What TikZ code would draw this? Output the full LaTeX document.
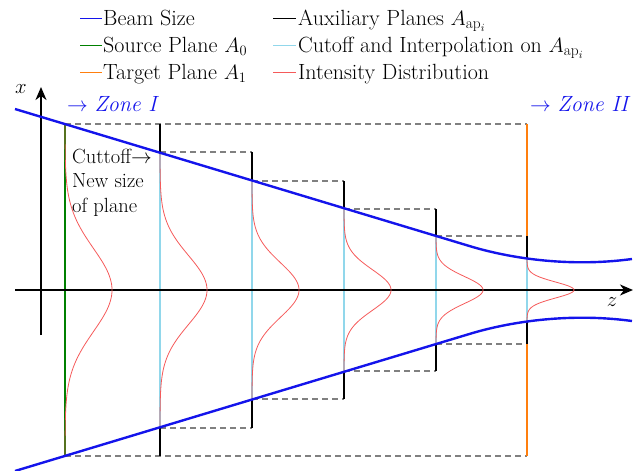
\documentclass[tikz,border=0pt]{standalone}
\usepackage{fontspec}
\usetikzlibrary{arrows.meta}
\definecolor{beamblue}{RGB}{20,20,235}
\definecolor{srcgreen}{RGB}{0,128,0}
\definecolor{tgtorange}{RGB}{255,127,14}
\definecolor{cutcyan}{RGB}{145,215,235}
\definecolor{intred}{RGB}{245,90,90}
\begin{document}
\begin{tikzpicture}[x=1pt,y=-1pt,
  every node/.style={font=\fontsize{22}{26}\selectfont, inner sep=0pt},
  beam/.style={beamblue, line width=2.4pt},
  srcplane/.style={srcgreen, line width=1.6pt},
  tgtplane/.style={tgtorange, line width=1.8pt},
  auxplane/.style={black, line width=1.8pt},
  cutplane/.style={cutcyan, line width=1.8pt},
  guide/.style={gray, line width=1.1pt, dash pattern=on 6pt off 4pt},
  intens/.style={intred, line width=0.8pt},
  axis/.style={black, line width=1.5pt, -{Stealth[length=13pt,width=11pt,inset=4pt]}},
  legline/.style={line width=1.6pt},
  legtext/.style={anchor=base west},
  cuttext/.style={anchor=base west, font=\fontsize{20.5}{24}\selectfont}
]
\useasboundingbox (0,0) rectangle (643,471);

% ---- coordinates: beam edges on each plane
\coordinate (t0) at (65,124);  \coordinate (b0) at (65,456);
\coordinate (t1) at (160,152); \coordinate (b1) at (160,428);
\coordinate (t2) at (252,181); \coordinate (b2) at (252,399);
\coordinate (t3) at (344,209); \coordinate (b3) at (344,371);
\coordinate (t4) at (436,236); \coordinate (b4) at (436,344);
\coordinate (t5) at (527,258); \coordinate (b5) at (527,322);
% auxiliary plane extents
\coordinate (a1t) at (160,124); \coordinate (a1b) at (160,456);
\coordinate (a2t) at (252,152); \coordinate (a2b) at (252,428);
\coordinate (a3t) at (344,181); \coordinate (a3b) at (344,399);
\coordinate (a4t) at (436,209); \coordinate (a4b) at (436,371);
\coordinate (a5t) at (527,236); \coordinate (a5b) at (527,344);
\coordinate (tgtT) at (527,124); \coordinate (tgtB) at (527,456);

% ---- dashed guides
\draw[guide] (t0) -- (tgtT);
\draw[guide] (b0) -- (tgtB);
\draw[guide] (t1) -- (a2t);
\draw[guide] (b1) -- (a2b);
\draw[guide] (t2) -- (a3t);
\draw[guide] (b2) -- (a3b);
\draw[guide] (t3) -- (a4t);
\draw[guide] (b3) -- (a4b);
\draw[guide] (t4) -- (a5t);
\draw[guide] (b4) -- (a5b);

% ---- planes
\draw[tgtplane] (tgtT) -- (tgtB);
\draw[srcplane] (t0) -- (b0);
\draw[auxplane] (a1t) -- (a1b);
\draw[auxplane] (a2t) -- (a2b);
\draw[auxplane] (a3t) -- (a3b);
\draw[auxplane] (a4t) -- (a4b);
\draw[auxplane] (a5t) -- (a5b);
\draw[cutplane] (t1) -- (b1);
\draw[cutplane] (t2) -- (b2);
\draw[cutplane] (t3) -- (b3);
\draw[cutplane] (t4) -- (b4);
\draw[cutplane] (t5) -- (b5);

% ---- axes
\coordinate (zs) at (15,290); \coordinate (ze) at (633,290);
\coordinate (xs) at (41,335); \coordinate (xe) at (41,87);
\draw[axis] (zs) -- (ze);
\draw[axis] (xs) -- (xe);
\node (xlab) at (21,89) {$x$};
\node (zlab) at (612,302) {$z$};

% ---- intensity distributions
\foreach \p/\h in {65/166,160/138,252/109,344/81,436/54,527/32}{
  \draw[intens] plot[domain=-1:1, samples=121, smooth]
    ({\p+47*exp(-8*\x*\x)}, {290+\h*\x});
}

% ---- beam
\draw[beam] (15,109) -- (470,246.2) .. controls (505,256.8) and (565,268) .. (632,259);
\draw[beam] (15,471) -- (470,333.8) .. controls (505,323.2) and (565,312) .. (632,321);

% ---- labels
\node[legtext, text=beamblue] (zone1) at (67,111) {$\rightarrow$\ \textit{Zone I}};
\node[legtext, text=beamblue] (zone2) at (530,111) {$\rightarrow$\ \textit{Zone II}};
\node[cuttext] (cut1) at (72,163) {Cuttoff$\rightarrow$};
\node[cuttext] (cut2) at (72,187) {New size};
\node[cuttext] (cut3) at (72,212) {of plane};

% ---- legend
\draw[legline, beamblue] (80,18.5) -- (102,18.5);
\node[legtext] (l1) at (103,25) {Beam Size};
\draw[legline, srcgreen] (80,45.5) -- (102,45.5);
\node[legtext] (l2) at (103,52) {Source Plane $A_0$};
\draw[legline, tgtorange] (80,72.5) -- (102,72.5);
\node[legtext] (l3) at (103,79) {Target Plane $A_1$};
\draw[legline, black] (273,18.5) -- (296,18.5);
\node[legtext] (l4) at (298,25) {Auxiliary Planes $A_{\mathrm{ap}_i}$};
\draw[legline, cutcyan] (273,45.5) -- (296,45.5);
\node[legtext] (l5) at (298,52) {Cutoff and Interpolation on $A_{\mathrm{ap}_i}$};
\draw[legline, intred] (273,72.5) -- (296,72.5);
\node[legtext] (l6) at (298,79) {Intensity Distribution};
\end{tikzpicture}
\end{document}
